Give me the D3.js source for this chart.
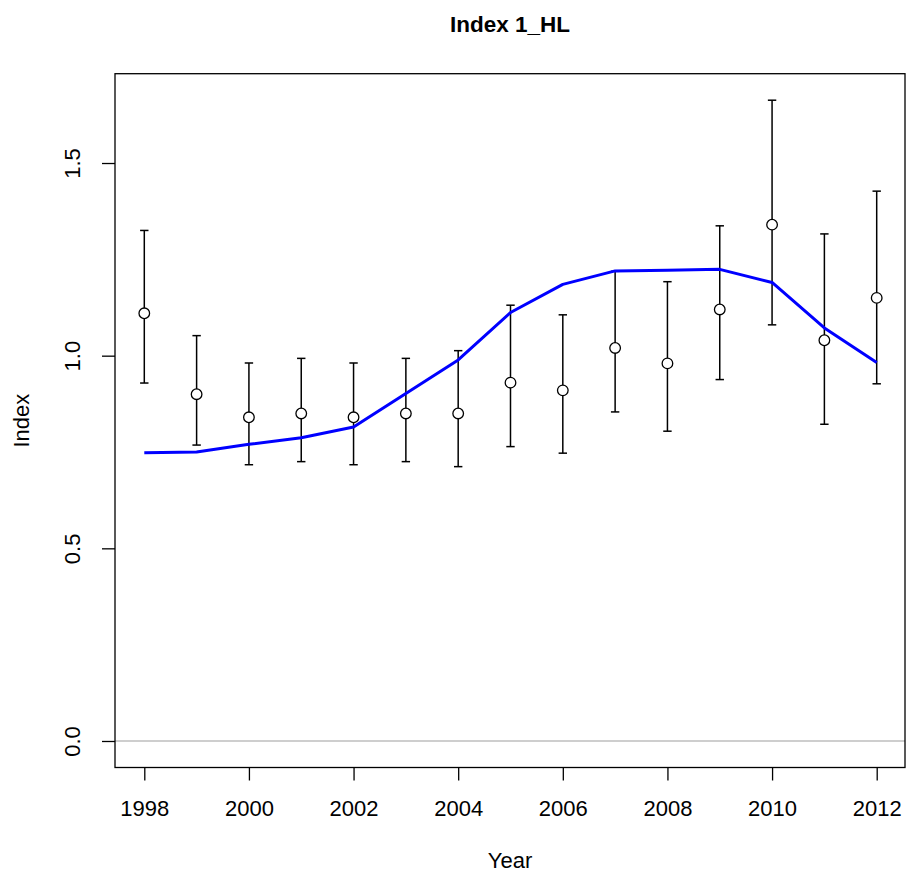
<!doctype html>
<html lang="en">
<head>
  <meta charset="utf-8">
  <title>Index 1_HL</title>
  <style>
  body {
    margin: 0;
    background: #fff;
  }
  text {
    font-family: "Liberation Sans", Arial, Helvetica, sans-serif;
    fill: #000;
  }
  .axis text {
    font-size: 22px;
  }
  .axis line {
    stroke: #000;
    stroke-width: 1.3px;
  }
  </style>
  <script src="https://d3js.org/d3.v7.min.js"></script>
</head>
<body>
<div id="chart"></div>
<script>
// values
var years = [1998, 1999, 2000, 2001, 2002, 2003, 2004, 2005, 2006, 2007, 2008, 2009, 2010, 2011, 2012];
var observed = [1.11, 0.90, 0.84, 0.85, 0.84, 0.85, 0.85, 0.93, 0.91, 1.02, 0.98, 1.12, 1.34, 1.04, 1.15];
var upperCI = [1.325, 1.052, 0.981, 0.993, 0.981, 0.993, 1.013, 1.131, 1.106, 1.219, 1.192, 1.337, 1.663, 1.316, 1.427];
var lowerCI = [0.929, 0.768, 0.717, 0.725, 0.717, 0.725, 0.712, 0.764, 0.747, 0.854, 0.804, 0.938, 1.080, 0.822, 0.927];
var predicted = [0.748, 0.750, 0.770, 0.787, 0.815, 0.902, 0.989, 1.112, 1.185, 1.220, 1.222, 1.224, 1.190, 1.072, 0.982];
var xTicks = [1998, 2000, 2002, 2004, 2006, 2008, 2010, 2012];
var yTicks = [0, 0.5, 1, 1.5];

var width = 906, height = 875;
// plot region (box) in pixels
var box = {left: 115, right: 905, top: 73.7, bottom: 767.5};

var x = d3.scaleLinear()
    .domain([1997.44, 2012.541])
    .range([box.left, box.right]);

var y = d3.scaleLinear()
    .domain([-0.0688, 1.7318])
    .range([box.bottom, box.top]);

var data = years.map(function(d, i) {
  return {year: d, obs: observed[i], lo: lowerCI[i], hi: upperCI[i], pred: predicted[i]};
});

var svg = d3.select('#chart').append('svg')
    .attr('width', width)
    .attr('height', height);

// zero reference line
svg.append('line')
    .attr('x1', box.left).attr('x2', box.right)
    .attr('y1', y(0)).attr('y2', y(0))
    .attr('stroke', '#bebebe')
    .attr('stroke-width', 1.5);

// x axis
var xAxis = svg.append('g')
    .attr('class', 'axis')
    .attr('transform', 'translate(0,' + box.bottom + ')')
    .call(d3.axisBottom(x).tickValues(xTicks).tickFormat(d3.format('d')).tickSize(13).tickPadding(0));
xAxis.select('.domain').remove();
xAxis.selectAll('text').attr('dy', null).attr('y', 48.5);

// y axis, labels parallel to the axis like R
var yAxis = svg.append('g')
    .attr('class', 'axis')
    .attr('transform', 'translate(' + box.left + ',0)')
    .call(d3.axisLeft(y).tickValues(yTicks).tickFormat(d3.format('.1f')).tickSize(13));
yAxis.select('.domain').remove();
yAxis.selectAll('text')
    .attr('x', null).attr('dy', null)
    .attr('text-anchor', 'middle')
    .attr('transform', 'translate(-35,0) rotate(-90)');

// error bars
var bars = svg.append('g')
    .attr('stroke', '#000')
    .attr('stroke-width', 1.5);

bars.selectAll('line.whisker')
    .data(data)
    .enter().append('line')
    .attr('class', 'whisker')
    .attr('x1', function(d) { return x(d.year); })
    .attr('x2', function(d) { return x(d.year); })
    .attr('y1', function(d) { return y(d.lo); })
    .attr('y2', function(d) { return y(d.hi); });

bars.selectAll('line.capHi')
    .data(data)
    .enter().append('line')
    .attr('class', 'capHi')
    .attr('x1', function(d) { return x(d.year) - 4.2; })
    .attr('x2', function(d) { return x(d.year) + 4.2; })
    .attr('y1', function(d) { return y(d.hi); })
    .attr('y2', function(d) { return y(d.hi); });

bars.selectAll('line.capLo')
    .data(data)
    .enter().append('line')
    .attr('class', 'capLo')
    .attr('x1', function(d) { return x(d.year) - 4.2; })
    .attr('x2', function(d) { return x(d.year) + 4.2; })
    .attr('y1', function(d) { return y(d.lo); })
    .attr('y2', function(d) { return y(d.lo); });

// observed points
svg.append('g').selectAll('circle')
    .data(data)
    .enter().append('circle')
    .attr('cx', function(d) { return x(d.year); })
    .attr('cy', function(d) { return y(d.obs); })
    .attr('r', 5.3)
    .attr('fill', '#fff')
    .attr('stroke', '#000')
    .attr('stroke-width', 1.3);

// predicted line
var line = d3.line()
    .x(function(d) { return x(d.year); })
    .y(function(d) { return y(d.pred); });

svg.append('path')
    .datum(data)
    .attr('d', line)
    .attr('fill', 'none')
    .attr('stroke', '#0000ff')
    .attr('stroke-width', 3)
    .attr('stroke-linejoin', 'round');

// box around the plot region
svg.append('rect')
    .attr('x', box.left).attr('y', box.top)
    .attr('width', box.right - box.left)
    .attr('height', box.bottom - box.top)
    .attr('fill', 'none')
    .attr('stroke', '#000')
    .attr('stroke-width', 1.3);

// titles
svg.append('text')
    .attr('x', (box.left + box.right) / 2)
    .attr('y', 31.5)
    .attr('text-anchor', 'middle')
    .style('font-size', '22.5px')
    .style('font-weight', 'bold')
    .text('Index 1_HL');

svg.append('text')
    .attr('x', (box.left + box.right) / 2)
    .attr('y', 868)
    .attr('text-anchor', 'middle')
    .style('font-size', '22px')
    .text('Year');

svg.append('text')
    .attr('transform', 'translate(28.5,' + (box.top + box.bottom) / 2 + ') rotate(-90)')
    .attr('text-anchor', 'middle')
    .style('font-size', '22px')
    .text('Index');
</script>
</body>
</html>
